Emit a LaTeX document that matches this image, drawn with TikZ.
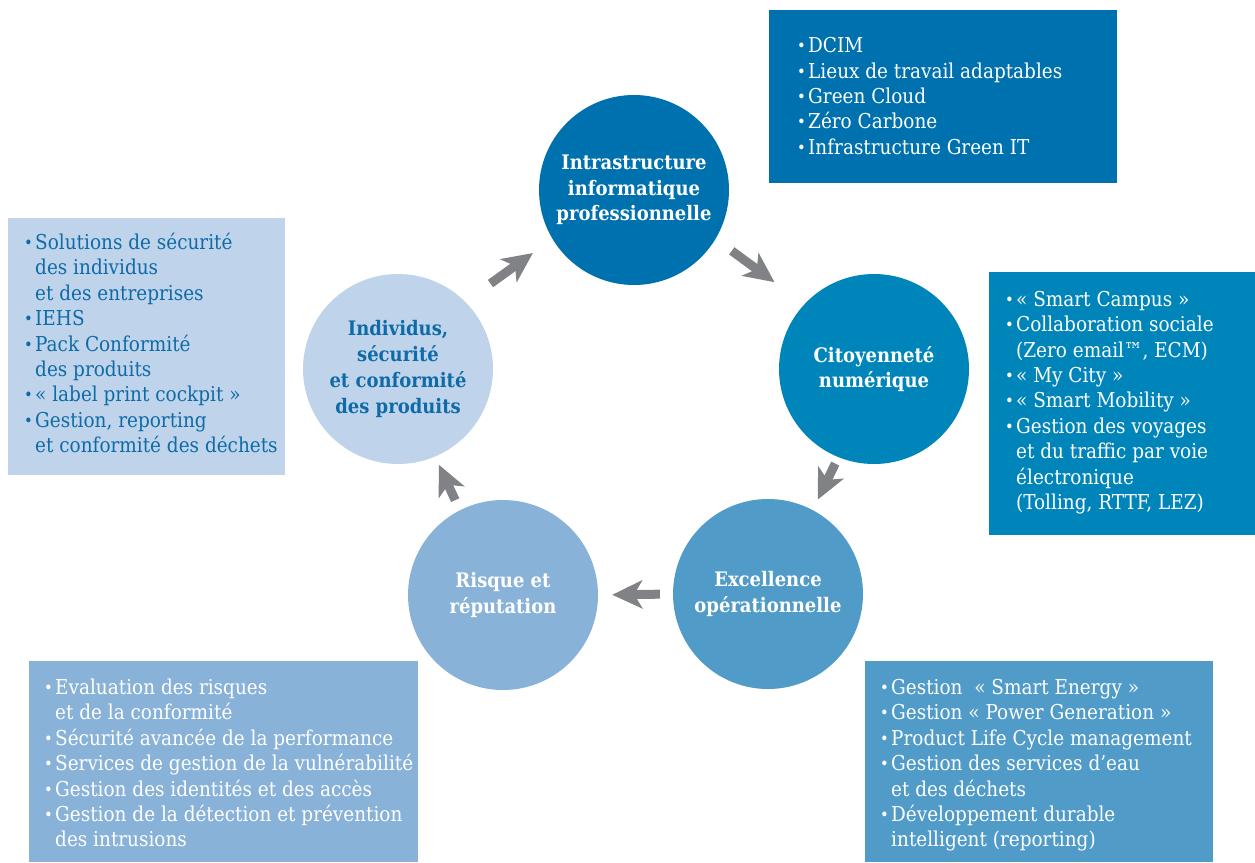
\documentclass[tikz,border=0pt]{standalone}
\usepackage{fontspec}
\setmainfont{DejaVu Serif Condensed}
\usetikzlibrary{arrows.meta}
\definecolor{infraBlue}{HTML}{0071AF}
\definecolor{citoyBlue}{HTML}{0085BB}
\definecolor{excelBlue}{HTML}{519BC9}
\definecolor{risqueBlue}{HTML}{89B2D8}
\definecolor{indivBlue}{HTML}{BFD4EA}
\definecolor{darkText}{HTML}{0E6BA8}
\definecolor{arrowGray}{HTML}{818285}
\newcommand{\bu}{\rule{0pt}{18pt}\makebox[11pt][l]{\raisebox{1pt}{\scalebox{0.8}{•}}}}
\newcommand{\ct}{\hspace*{11pt}}
\begin{document}
\begin{tikzpicture}[x=1pt,y=-1pt,
    pole/.style={circle,minimum size=190pt,inner sep=0pt,align=center,text=white,
      font=\bfseries\fontsize{20}{25.7}\selectfont},
    liste/.style={anchor=north west,inner sep=0pt,align=left,text=white,
      font=\fontsize{20.5}{25.4}\selectfont},
    flow/.style={draw=arrowGray,line width=9pt,-{Stealth[length=30pt,width=28pt,inset=8pt]}}]
  \useasboundingbox (0,0) rectangle (1255,862);

% circles
  \node[pole,fill=infraBlue]  (infra)  at (634,190) {Intrastructure\\informatique\\professionnelle};
  \node[pole,fill=citoyBlue]  (citoy)  at (874,369) {Citoyenneté\\numérique};
  \node[pole,fill=excelBlue]  (excel)  at (768,594) {Excellence\\opérationnelle};
  \node[pole,fill=risqueBlue] (risque) at (503,595) {Risque et\\réputation};
  \node[pole,fill=indivBlue,text=darkText] (indiv) at (398,369) {Individus,\\sécurité\\et conformité\\des produits};

% arrows
  \draw[flow,shorten <=31pt,shorten >=24pt]   (indiv.45)    -- (infra.211);
  \draw[flow,shorten <=20pt,shorten >=37pt]   (infra.-31.5) -- (citoy.137);
  \draw[flow,shorten <=7pt,shorten >=11.5pt]  (citoy.248)   -- (excel.62);
  \draw[flow,shorten <=13pt,shorten >=14pt]   (excel.180)   -- (risque.0);
  \draw[flow,shorten <=11pt,shorten >=9pt]    (risque.117)  -- (indiv.-67);

% boxes
  \fill[infraBlue]  (769,10)  rectangle (1117,183);
  \fill[citoyBlue]  (989,272) rectangle (1255,535);
  \fill[excelBlue]  (865,661) rectangle (1213,862);
  \fill[risqueBlue] (29,661)  rectangle (418,862);
  \fill[indivBlue]  (8,218)   rectangle (285,475);

  \node[liste] (infraList) at (797,34.5) {\bu DCIM\\
    \bu Lieux de travail adaptables\\
    \bu Green Cloud\\
    \bu Zéro Carbone\\
    \bu Infrastructure Green IT};
  \node[liste] (citoyList) at (1005,288) {\bu « Smart Campus »\\
    \bu Collaboration sociale\\
    \ct (Zero email™, ECM)\\
    \bu « My City »\\
    \bu « Smart Mobility »\\
    \bu Gestion des voyages\\
    \ct et du traffic par voie\\
    \ct électronique\\
    \ct (Tolling, RTTF, LEZ)};
  \node[liste] (excelList) at (880,676.3) {\bu Gestion~ « Smart Energy »\\
    \bu Gestion « Power Generation »\\
    \bu Product Life Cycle management\\
    \bu Gestion des services d’eau\\
    \ct et des déchets\\
    \bu Développement durable\\
    \ct intelligent (reporting)};
  \node[liste] (risqueList) at (44,676.3) {\bu Evaluation des risques\\
    \ct et de la conformité\\
    \bu Sécurité avancée de la performance\\
    \bu Services de gestion de la vulnérabilité\\
    \bu Gestion des identités et des accès\\
    \bu Gestion de la détection et prévention\\
    \ct des intrusions};
  \node[liste,text=darkText] (indivList) at (24,231.3) {\bu Solutions de sécurité\\
    \ct des individus\\
    \ct et des entreprises\\
    \bu IEHS\\
    \bu Pack Conformité\\
    \ct des produits\\
    \bu « label print cockpit »\\
    \bu Gestion, reporting\\
    \ct et conformité des déchets};
\end{tikzpicture}
\end{document}
